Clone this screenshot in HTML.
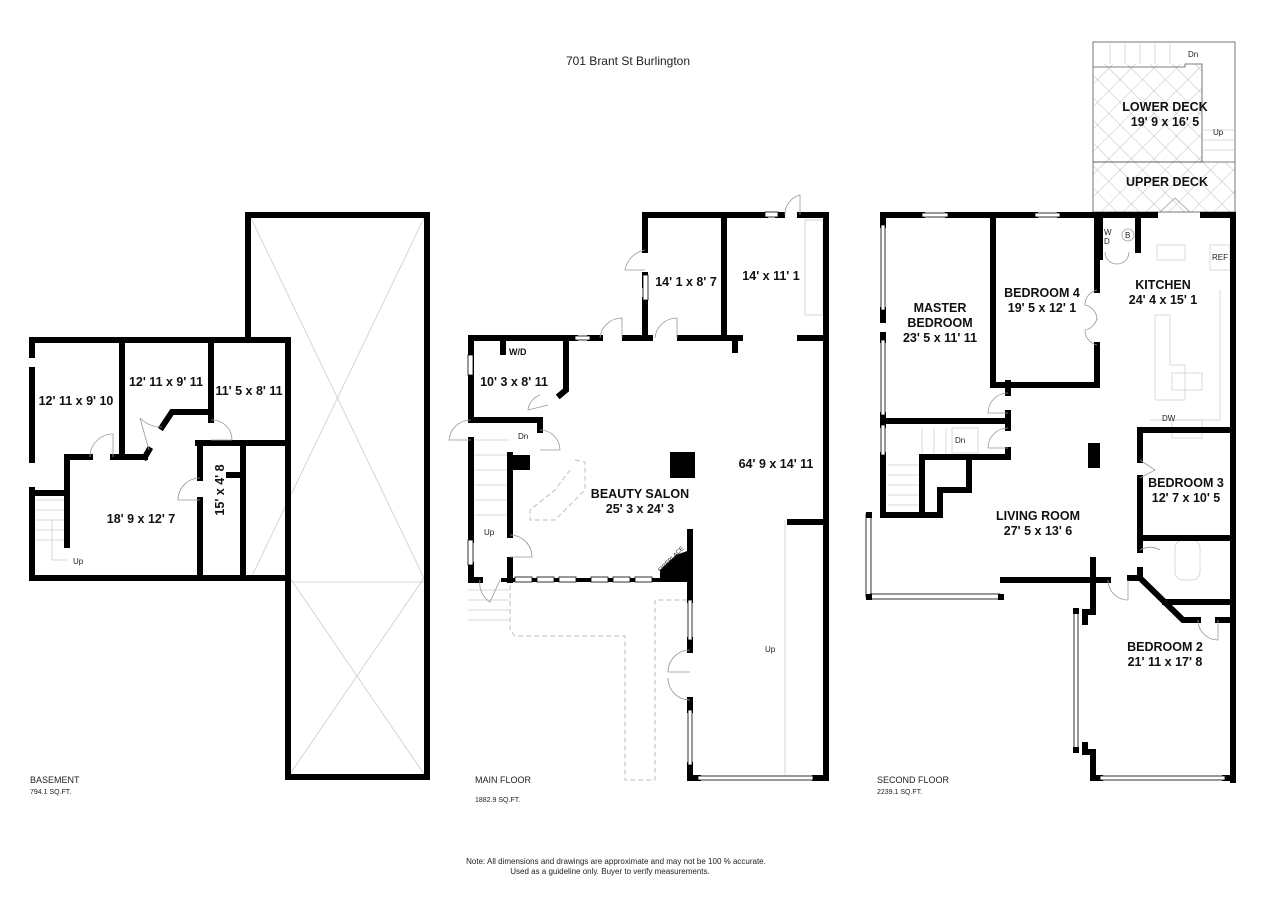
<!DOCTYPE html>
<html><head><meta charset="utf-8"><style>
html,body{margin:0;padding:0;background:#fff;}
svg{display:block}
text{font-family:"Liberation Sans",Arial,sans-serif;}
.l{font-weight:bold;font-size:12.5px;text-anchor:middle;fill:#111}
.s{font-size:8px;fill:#222}
</style></head><body>
<svg width="1280" height="906" viewBox="0 0 1280 906" xmlns="http://www.w3.org/2000/svg">
<defs>
<pattern id="hat" width="16" height="16" patternUnits="userSpaceOnUse" patternTransform="rotate(45)">
<path d="M0 0H16M0 0V16" stroke="#aaa" stroke-width="0.7" fill="none"/>
</pattern>
</defs>
<text x="628" y="65" text-anchor="middle" font-size="12" fill="#222">701 Brant St Burlington</text>

<!-- BASEMENT -->
<g stroke="#ccc" stroke-width="0.8" fill="none">
<line x1="251" y1="218" x2="424" y2="578"/><line x1="424" y1="218" x2="251" y2="578"/>
<line x1="290" y1="578" x2="424" y2="774"/><line x1="424" y1="578" x2="290" y2="774"/>
<line x1="290" y1="582" x2="424" y2="582"/>
<line x1="36" y1="500" x2="67" y2="500"/><line x1="36" y1="510" x2="67" y2="510"/><line x1="36" y1="520" x2="67" y2="520"/><line x1="36" y1="530" x2="67" y2="530"/><line x1="36" y1="540" x2="67" y2="540"/>
<polyline points="52,520 52,560 67,560"/>
</g>
<g stroke="#000" stroke-width="6" fill="none" stroke-linecap="square">
<polyline points="248,337 248,215 427,215 427,777 288,777 288,578"/>
<polyline points="32,355 32,340 288,340 288,578 32,578 32,490"/>
<line x1="32" y1="370" x2="32" y2="460"/>
<line x1="122" y1="343" x2="122" y2="457"/>
<polyline points="67,545 67,457 90,457"/>
<line x1="113" y1="457" x2="145" y2="457"/>
<line x1="145" y1="457" x2="149" y2="450"/>
<polyline points="162,427 172,412 211,412 211,420"/>
<line x1="211" y1="343" x2="211" y2="410"/>
<line x1="198" y1="443" x2="288" y2="443"/>
<line x1="200" y1="443" x2="200" y2="478"/>
<line x1="200" y1="500" x2="200" y2="578"/>
<line x1="243" y1="443" x2="243" y2="578"/>
<line x1="229" y1="475" x2="240" y2="475"/>
<line x1="36" y1="493" x2="67" y2="493"/>
</g>
<g stroke="#999" stroke-width="0.8" fill="none">
<path d="M90 457 A23 23 0 0 1 113 434 V457"/>
<path d="M149 450 L140 418 A30 30 0 0 0 162 427"/>
<path d="M211 420 A20 20 0 0 1 232 440 H211"/>
<path d="M200 478 A22 22 0 0 0 178 500 H200"/>
</g>
<text class="l" x="76" y="405">12' 11 x 9' 10</text>
<text class="l" x="166" y="386">12' 11 x 9' 11</text>
<text class="l" x="249" y="395">11' 5 x 8' 11</text>
<text class="l" x="141" y="523">18' 9 x 12' 7</text>
<text class="l" transform="translate(224,490) rotate(-90)">15' x 4' 8</text>
<text class="s" x="73" y="564">Up</text>
<text x="30" y="783" font-size="9" fill="#222">BASEMENT</text>
<text x="30" y="794" font-size="7" fill="#222">794.1 SQ.FT.</text>

<!-- MAIN FLOOR -->
<g stroke="#bbb" stroke-width="0.9" fill="none" stroke-dasharray="5,3">
<polyline points="510,585 510,630 515,636 625,636 625,780 655,780 655,600 690,600"/>
<polyline points="575,460 585,462 585,490 555,520 530,520 530,510 555,490 570,470"/>
</g>
<g stroke="#ccc" stroke-width="0.8" fill="none">
<line x1="785" y1="520" x2="785" y2="775"/>
<line x1="468" y1="590" x2="510" y2="590"/><line x1="468" y1="600" x2="510" y2="600"/><line x1="468" y1="610" x2="510" y2="610"/><line x1="468" y1="620" x2="510" y2="620"/>
<line x1="475" y1="440" x2="510" y2="440"/><line x1="475" y1="455" x2="510" y2="455"/><line x1="475" y1="470" x2="510" y2="470"/><line x1="475" y1="485" x2="510" y2="485"/><line x1="475" y1="500" x2="510" y2="500"/><line x1="475" y1="515" x2="510" y2="515"/>
<rect x="805" y="220" width="18" height="95"/>
</g>
<g stroke="#000" stroke-width="6" fill="none" stroke-linecap="square">
<polyline points="645,250 645,215 765,215"/>
<line x1="778" y1="215" x2="782" y2="215"/>
<polyline points="800,215 826,215 826,778 815,778"/>
<line x1="645" y1="275" x2="645" y2="285"/>
<line x1="645" y1="300" x2="645" y2="338"/>
<line x1="724" y1="215" x2="724" y2="338"/>
<line x1="680" y1="338" x2="740" y2="338"/>
<line x1="735" y1="338" x2="735" y2="350"/>
<line x1="800" y1="338" x2="826" y2="338"/>
<line x1="625" y1="338" x2="650" y2="338"/>
<polyline points="575,338 471,338 471,420"/>
<line x1="590" y1="338" x2="600" y2="338"/>
<line x1="471" y1="440" x2="471" y2="540"/>
<line x1="471" y1="565" x2="471" y2="580"/>
<line x1="471" y1="420" x2="540" y2="420"/>
<polyline points="566,338 566,390 560,395"/>
<line x1="503" y1="338" x2="503" y2="352"/>
<line x1="510" y1="455" x2="510" y2="535"/>
<line x1="510" y1="560" x2="510" y2="580"/>
<line x1="540" y1="420" x2="540" y2="430"/>
<line x1="471" y1="580" x2="480" y2="580"/>
<line x1="503" y1="580" x2="690" y2="580" stroke-width="4"/>
<line x1="690" y1="532" x2="690" y2="600"/>
<line x1="690" y1="640" x2="690" y2="650"/>
<line x1="690" y1="700" x2="690" y2="710"/>
<line x1="690" y1="765" x2="690" y2="778"/>
<line x1="690" y1="778" x2="698" y2="778"/>
<line x1="790" y1="522" x2="826" y2="522"/>
</g>
<g fill="#fff" stroke="#000" stroke-width="0.8">
<rect x="515" y="577" width="17" height="5"/><rect x="537" y="577" width="17" height="5"/><rect x="559" y="577" width="17" height="5"/><rect x="591" y="577" width="17" height="5"/><rect x="613" y="577" width="17" height="5"/><rect x="635" y="577" width="17" height="5"/>
<rect x="688" y="600" width="4" height="40"/><rect x="688" y="710" width="4" height="55"/>
<rect x="698" y="776" width="115" height="4"/>
<rect x="468" y="355" width="5" height="20"/><rect x="468" y="540" width="5" height="25"/>
<rect x="643" y="275" width="5" height="25"/>
<rect x="765" y="212" width="13" height="5"/><rect x="575" y="336" width="15" height="4"/>
</g>
<rect x="670" y="452" width="25" height="26" fill="#000"/>
<polygon points="512,455 530,455 530,470 512,470" fill="#000"/>
<polygon points="660,580 690,580 690,550 676,555 660,570" fill="#000"/>
<g stroke="#999" stroke-width="0.8" fill="none">
<path d="M645 250 A25 25 0 0 0 625 270 H645"/>
<path d="M600 338 A22 22 0 0 1 622 318 V338"/>
<path d="M655 338 A22 22 0 0 1 677 318 V338"/>
<path d="M785 215 A20 20 0 0 1 800 195 V215"/>
<path d="M471 420 A22 22 0 0 0 449 440 H471"/>
<path d="M540 430 A20 20 0 0 1 560 450 H540"/>
<path d="M540 395 A18 18 0 0 0 528 410 L548 405"/>
<path d="M510 535 A22 22 0 0 1 532 557 H510"/>
<path d="M480 580 A22 22 0 0 0 490 602 L500 580"/>
<path d="M690 650 A22 22 0 0 0 668 672 H690 M690 700 A22 22 0 0 1 668 678"/>
</g>
<text class="l" x="686" y="286">14' 1 x 8' 7</text>
<text class="l" x="771" y="280">14' x 11' 1</text>
<text x="509" y="355" font-size="9" font-weight="bold" fill="#111">W/D</text>
<text class="l" x="514" y="386">10' 3 x 8' 11</text>
<text class="s" x="518" y="439">Dn</text>
<text class="s" x="484" y="535">Up</text>
<text class="l" x="640" y="498">BEAUTY SALON</text>
<text class="l" x="640" y="513">25' 3 x 24' 3</text>
<text class="l" x="776" y="468">64' 9 x 14' 11</text>
<text class="s" x="765" y="652">Up</text>
<text x="657" y="568" font-size="6" fill="#222" transform="rotate(-45 664 566)">FIREPLACE</text>
<text x="475" y="783" font-size="9" fill="#222">MAIN FLOOR</text>
<text x="475" y="802" font-size="7" fill="#222">1882.9 SQ.FT.</text>

<!-- SECOND FLOOR -->
<rect x="1093" y="42" width="142" height="170" fill="url(#hat)" stroke="none"/>
<rect x="1093" y="42" width="142" height="22" fill="#fff"/>
<rect x="1202" y="64" width="33" height="98" fill="#fff"/>
<g stroke="#555" stroke-width="0.8" fill="none">
<rect x="1093" y="42" width="142" height="170"/>
<polyline points="1093,67 1185,67 1185,64 1202,64 1202,162 1093,162"/>
<line x1="1093" y1="162" x2="1235" y2="162"/>
</g>
<g stroke="#ccc" stroke-width="0.7" fill="none">
<line x1="1110" y1="42" x2="1110" y2="64"/><line x1="1125" y1="42" x2="1125" y2="64"/><line x1="1140" y1="42" x2="1140" y2="64"/><line x1="1155" y1="42" x2="1155" y2="64"/><line x1="1170" y1="42" x2="1170" y2="64"/>
<line x1="1202" y1="140" x2="1235" y2="140"/><line x1="1202" y1="150" x2="1235" y2="150"/><line x1="1202" y1="130" x2="1235" y2="130"/>
<line x1="922" y1="428" x2="922" y2="457"/><line x1="934" y1="428" x2="934" y2="457"/><line x1="946" y1="428" x2="946" y2="457"/>
<line x1="888" y1="465" x2="922" y2="465"/><line x1="888" y1="475" x2="922" y2="475"/><line x1="888" y1="485" x2="922" y2="485"/><line x1="888" y1="495" x2="922" y2="495"/><line x1="888" y1="505" x2="922" y2="505"/>
<rect x="952" y="428" width="26" height="25"/>
<rect x="1157" y="245" width="28" height="15"/><rect x="1172" y="373" width="30" height="17"/>
<polyline points="1155,315 1170,315 1170,365 1185,365 1185,400 1155,400 1155,315"/>
<rect x="1210" y="245" width="20" height="25"/>
<rect x="1172" y="420" width="30" height="18"/>
<path d="M1220 290 V420 H1150"/>
<rect x="1175" y="540" width="25" height="40" rx="8"/>
</g>
<g stroke="#000" stroke-width="6" fill="none" stroke-linecap="square">
<polyline points="883,225 883,215 922,215"/>
<line x1="948" y1="215" x2="1035" y2="215"/>
<line x1="1060" y1="215" x2="1155" y2="215"/>
<line x1="1203" y1="215" x2="1233" y2="215"/>
<line x1="1233" y1="215" x2="1233" y2="780"/>
<line x1="883" y1="415" x2="883" y2="425"/>
<line x1="883" y1="455" x2="883" y2="515"/>
<line x1="883" y1="310" x2="883" y2="320"/>
<line x1="883" y1="335" x2="883" y2="340"/>
<line x1="993" y1="215" x2="993" y2="385"/>
<polyline points="993,385 1097,385 1097,345"/>
<line x1="1097" y1="215" x2="1097" y2="290"/>
<polyline points="1100,255 1100,215 1100,257"/>
<line x1="1138" y1="215" x2="1138" y2="250"/>
<line x1="884" y1="421" x2="1008" y2="421"/>
<line x1="1008" y1="413" x2="1008" y2="428"/>
<line x1="1008" y1="450" x2="1008" y2="457"/>
<polyline points="1008,457 922,457 922,515"/>
<polyline points="969,457 969,490 940,490 940,515 885,515"/>
<line x1="1008" y1="383" x2="1008" y2="393"/>
<polyline points="1140,460 1140,430 1233,430"/>
<polyline points="1140,478 1140,538 1233,538"/>
<line x1="1140" y1="538" x2="1140" y2="550"/>
<polyline points="1140,570 1140,578 1130,578"/>
<polyline points="1140,578 1183,620 1198,620"/>
<line x1="1165" y1="602" x2="1233" y2="602"/>
<line x1="1218" y1="620" x2="1233" y2="620"/>
<line x1="1003" y1="580" x2="1093" y2="580"/>
<line x1="1093" y1="560" x2="1093" y2="612"/>
<line x1="1093" y1="580" x2="1108" y2="580"/>
<line x1="1093" y1="612" x2="1085" y2="612"/>
<line x1="1085" y1="612" x2="1085" y2="622"/>
<line x1="1085" y1="745" x2="1085" y2="752"/>
<polyline points="1090,752 1093,752 1093,778 1100,778"/>
<line x1="1225" y1="778" x2="1233" y2="778"/>
</g>
<g fill="#fff" stroke="#000" stroke-width="0.8">
<rect x="881" y="225" width="4" height="85"/><rect x="881" y="340" width="4" height="75"/><rect x="881" y="425" width="4" height="30"/>
<rect x="922" y="213" width="26" height="4"/><rect x="1035" y="213" width="25" height="4"/>
<rect x="866" y="514" width="5" height="83"/><rect x="870" y="594" width="130" height="5"/>
<rect x="1074" y="612" width="4" height="138"/>
<rect x="1100" y="776" width="125" height="4"/>
</g>
<g fill="#000"><rect x="866" y="512" width="6" height="6"/><rect x="866" y="594" width="6" height="6"/><rect x="998" y="594" width="6" height="6"/><rect x="1073" y="608" width="6" height="6"/><rect x="1073" y="747" width="6" height="6"/></g>
<rect x="1088" y="443" width="12" height="25" fill="#000"/>
<g stroke="#999" stroke-width="0.8" fill="none">
<path d="M1097 290 A15 15 0 0 0 1085 305 A15 15 0 0 1 1097 320 M1097 345 A15 15 0 0 1 1085 330 A15 15 0 0 0 1097 318"/>
<path d="M1008 393 A20 20 0 0 0 988 413 H1008"/>
<path d="M1008 428 A20 20 0 0 0 988 448 H1008"/>
<path d="M1140 460 L1155 470 L1140 478"/>
<path d="M1140 550 A20 20 0 0 1 1160 550"/>
<path d="M1108 580 A20 20 0 0 0 1128 600 V580"/>
<path d="M1198 620 A20 20 0 0 0 1218 640 V620"/>
<path d="M1105 252 A12 12 0 0 0 1117 264 A12 12 0 0 0 1129 252"/>
<path d="M1160 212 L1175 198 L1190 212"/>
<circle cx="1128" cy="235" r="6"/>
</g>
<text class="l" x="940" y="312">MASTER</text>
<text class="l" x="940" y="327">BEDROOM</text>
<text class="l" x="940" y="342">23' 5 x 11' 11</text>
<text class="l" x="1042" y="297">BEDROOM 4</text>
<text class="l" x="1042" y="312">19' 5 x 12' 1</text>
<text class="l" x="1163" y="289">KITCHEN</text>
<text class="l" x="1163" y="304">24' 4 x 15' 1</text>
<text class="l" x="1186" y="487">BEDROOM 3</text>
<text class="l" x="1186" y="502">12' 7 x 10' 5</text>
<text class="l" x="1038" y="520">LIVING ROOM</text>
<text class="l" x="1038" y="535">27' 5 x 13' 6</text>
<text class="l" x="1165" y="651">BEDROOM 2</text>
<text class="l" x="1165" y="666">21' 11 x 17' 8</text>
<text class="l" x="1165" y="111">LOWER DECK</text>
<text class="l" x="1165" y="126">19' 9 x 16' 5</text>
<text class="l" x="1167" y="186">UPPER DECK</text>
<text class="s" x="1188" y="57">Dn</text>
<text class="s" x="1213" y="135">Up</text>
<text class="s" x="955" y="443">Dn</text>
<text class="s" x="1212" y="260" font-size="7">REF</text>
<text class="s" x="1162" y="421" font-size="7">DW</text>
<text class="s" x="1104" y="235" font-size="7">W</text>
<text class="s" x="1104" y="244" font-size="7">D</text>
<text class="s" x="1125" y="238" font-size="6">B</text>
<text x="877" y="783" font-size="9" fill="#222">SECOND FLOOR</text>
<text x="877" y="794" font-size="7" fill="#222">2239.1 SQ.FT.</text>

<text x="616" y="864" text-anchor="middle" font-size="8" fill="#222">Note: All dimensions and drawings are approximate and may not be 100 % accurate.</text>
<text x="610" y="874" text-anchor="middle" font-size="8" fill="#222">Used as a guideline only. Buyer to verify measurements.</text>
</svg>
</body></html>
